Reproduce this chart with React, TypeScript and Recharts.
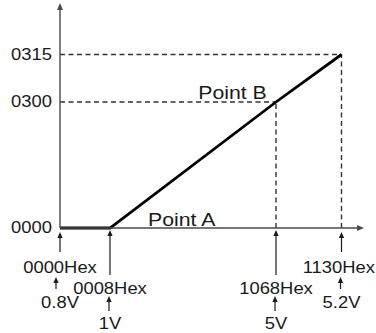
import React from 'react';
import {
  LineChart,
  Line,
  XAxis,
  YAxis,
  ReferenceLine,
  ReferenceDot,
} from 'recharts';

// input side (x axis): hex code, voltage, schematic position along the axis
const inputHex = ['0000Hex', '0008Hex', '1068Hex', '1130Hex'];
const inputVolts = ['0.8V', '1V', '5V', '5.2V'];
const inputPos = [0, 1, 4.32, 5.63];

// output side (y axis): code and schematic position
const outputHex = ['0000', '0000', '0300', '0315'];
const outputPos = [0, 0, 2.52, 3.47];

const pointNames = ['', 'Point A', 'Point B', ''];

const xMax = 5.96;
const yMax = 4.38;

const W = 376;
const H = 333;

const data = inputPos.map((x, i) => ({ x, y: outputPos[i] }));
const yTicks = Array.from(new Set(outputPos));

const font = '"Liberation Sans", Arial, Helvetica, sans-serif';
const textColor = '#1a1a1a';
const axisColor = '#4a4a4a';
const dashColor = '#333';
const stretch = 1.15; // the lettering in the figure is a little wide

const UpArrow = ({ x, top, bottom }: { x: number; top: number; bottom: number }) => (
  <g>
    <line x1={x} y1={top + 5} x2={x} y2={bottom} stroke={textColor} strokeWidth={1.2} />
    <path d={`M${x},${top} L${x - 2.6},${top + 6} L${x + 2.6},${top + 6} Z`} fill={textColor} />
  </g>
);

const WideText = ({ x, y, size, anchor, children }: any) => (
  <text
    transform={`translate(${x},${y}) scale(${stretch},1)`}
    textAnchor={anchor}
    fontSize={size}
    fontFamily={font}
    fill={textColor}
  >
    {children}
  </text>
);

const XTick = (props: any) => {
  const { x, y, payload } = props;
  const i = inputPos.indexOf(payload.value);
  if (i < 0) return null;
  const long = i === 1 || i === 2;
  // keep the right-most hex label inside the picture
  const hexHalf = 37;
  const hexAtEdge = x + hexHalf > W - 1;
  return (
    <g>
      <UpArrow x={x} top={y + (long ? 2 : 4)} bottom={y + (long ? 47 : 24)} />
      <WideText
        x={hexAtEdge ? W - 1 : x}
        y={y + (long ? 66 : 45)}
        size={16}
        anchor={hexAtEdge ? 'end' : 'middle'}
      >
        {inputHex[i]}
      </WideText>
      <UpArrow x={x - (i === 0 ? 4 : 1)} top={y + (long ? 68 : 49)} bottom={y + (long ? 83 : 61)} />
      <WideText x={x} y={y + (long ? 101 : 80)} size={16} anchor="middle">
        {inputVolts[i]}
      </WideText>
    </g>
  );
};

const YTick = (props: any) => {
  const { x, y, payload } = props;
  const i = outputPos.indexOf(payload.value);
  return (
    <WideText x={x - 8} y={y + 5} size={16} anchor="end">
      {outputHex[i]}
    </WideText>
  );
};

const pointLabel = (dx: number, dy: number, name: string) => (props: any) => {
  const vb = props.viewBox || {};
  const cx = vb.x + (vb.width || 0) / 2;
  const cy = vb.y + (vb.height || 0) / 2;
  return (
    <WideText x={cx + dx} y={cy + dy} size={18.5} anchor="middle">
      {name}
    </WideText>
  );
};

export default function App() {
  return (
    <div style={{ position: 'absolute', left: 0, top: 0, background: '#fff' }}>
      <LineChart
        width={W}
        height={H}
        data={data}
        margin={{ top: 9, right: 18, left: 0, bottom: 0 }}
      >
        <defs>
          <marker
            id="axisArrow"
            viewBox="0 0 7 6"
            refX={1}
            refY={3}
            markerWidth={7}
            markerHeight={6}
            markerUnits="userSpaceOnUse"
            orient="auto-start-reverse"
          >
            <path d="M0,0 L7,3 L0,6 Z" fill={axisColor} />
          </marker>
        </defs>
        <XAxis
          dataKey="x"
          type="number"
          domain={[0, xMax]}
          ticks={inputPos}
          interval={0}
          height={105}
          tickSize={0}
          tickMargin={0}
          tickLine={false}
          axisLine={{ stroke: axisColor, strokeWidth: 1.4, markerEnd: 'url(#axisArrow)' }}
          tick={<XTick />}
        />
        <YAxis
          type="number"
          domain={[0, yMax]}
          ticks={yTicks}
          interval={0}
          width={60}
          tickSize={0}
          tickMargin={0}
          tickLine={false}
          axisLine={{ stroke: axisColor, strokeWidth: 1.4, markerStart: 'url(#axisArrow)' }}
          tick={<YTick />}
        />
        {[2, 3].map((i) => (
          <ReferenceLine
            key={`h${i}`}
            segment={[
              { x: 0, y: outputPos[i] },
              { x: inputPos[i], y: outputPos[i] },
            ]}
            stroke={dashColor}
            strokeWidth={1.4}
            strokeDasharray="5 3.5"
          />
        ))}
        {[2, 3].map((i) => (
          <ReferenceLine
            key={`v${i}`}
            segment={[
              { x: inputPos[i], y: 0 },
              { x: inputPos[i], y: outputPos[i] },
            ]}
            stroke={dashColor}
            strokeWidth={1.4}
            strokeDasharray="5 3.5"
          />
        ))}
        <Line
          type="linear"
          dataKey="y"
          stroke="#000"
          strokeWidth={2.8}
          dot={false}
          isAnimationActive={false}
        />
        <ReferenceDot
          x={inputPos[1]}
          y={outputPos[1]}
          r={0}
          stroke="none"
          fill="none"
          label={{ content: pointLabel(71.7, -2.3, pointNames[1]) }}
        />
        <ReferenceDot
          x={inputPos[2]}
          y={outputPos[2]}
          r={0}
          stroke="none"
          fill="none"
          label={{ content: pointLabel(-43.5, -3, pointNames[2]) }}
        />
      </LineChart>
    </div>
  );
}
